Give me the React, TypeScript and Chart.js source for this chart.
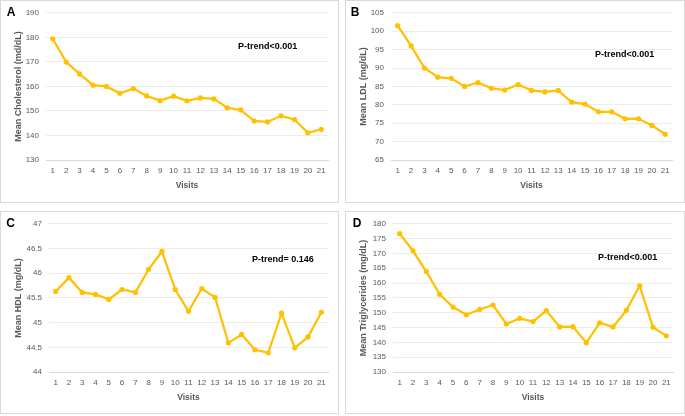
import React, { useEffect, useRef } from "react";
import { Chart, registerables } from "chart.js";

Chart.register(...registerables);

const visits = ["1","2","3","4","5","6","7","8","9","10","11","12","13","14","15","16","17","18","19","20","21"];
const cholesterol = [179.4,169.9,165.1,160.5,160.0,157.2,159.1,156.1,154.2,156.0,154.1,155.3,154.9,151.3,150.4,145.9,145.5,148.0,146.5,141.1,142.5];
const ldl = [101.5,96.0,90.0,87.5,87.2,85.0,86.0,84.5,84.0,85.5,83.9,83.5,83.9,80.7,80.2,78.1,78.1,76.2,76.2,74.4,72.0];
const hdl = [45.63,45.91,45.61,45.57,45.47,45.67,45.61,46.08,46.44,45.67,45.23,45.69,45.51,44.59,44.76,44.45,44.39,45.19,44.49,44.71,45.21];
const triglycerides = [176.7,170.9,163.9,156.2,151.9,149.3,151.1,152.6,146.2,148.1,147.0,150.7,145.2,145.3,139.9,146.6,145.2,150.8,159.1,145.1,142.2];

const panelLetters = ["A", "B", "C", "D"];
const pTrends = ["P-trend<0.001", "P-trend<0.001", "P-trend= 0.146", "P-trend<0.001"];
const yTitles = ["Mean Cholesterol (md/dL)", "Mean LDL (mg/dL)", "Mean HDL (mg/dL)", "Mean Triglycerides (mg/dL)"];
const yRanges = [
  [130, 190, 10],
  [65, 105, 5],
  [44, 47, 0.5],
  [130, 180, 5],
];
const seriesList = [cholesterol, ldl, hdl, triglycerides];

const FONT = "'Liberation Sans', Arial, sans-serif";
const GOLD = "#FFC000";
const GRAY = "#595959";
const GRID = "#ececec";
const AXIS = "#d9d9d9";

type Geo = {
  left: number; top: number; w: number; h: number;
  yW: number; padR: number; padT: number; xH: number; xTitlePad: number;
  letterX: number; letterY: number; pX: number; pY: number;
};

const geos: Geo[] = [
  { left: 0, top: 0, w: 337, h: 201, yW: 45, padR: 10, padT: 9, xH: 42, xTitlePad: 11, letterX: 10, letterY: 12, pX: 237, pY: 46 },
  { left: 345, top: 0, w: 338, h: 201, yW: 45, padR: 12, padT: 9, xH: 42, xTitlePad: 11, letterX: 9, letterY: 11.5, pX: 249, pY: 54 },
  { left: 0, top: 211, w: 337, h: 201, yW: 48, padR: 10, padT: 10, xH: 41, xTitlePad: 10.5, letterX: 9.5, letterY: 11.5, pX: 251, pY: 48 },
  { left: 345, top: 211, w: 338, h: 201, yW: 47, padR: 11, padT: 10, xH: 41, xTitlePad: 10.5, letterX: 11, letterY: 11.5, pX: 252, pY: 46 },
];

const panelTextPlugin = {
  id: "panelText",
  afterDraw(chart: any, _args: any, opts: any) {
    const ctx = chart.ctx;
    ctx.save();
    ctx.fillStyle = "#000";
    ctx.textBaseline = "middle";
    ctx.textAlign = "center";
    ctx.font = `bold 12px ${FONT}`;
    ctx.fillText(opts.letter, opts.letterX, opts.letterY);
    ctx.textAlign = "left";
    ctx.font = `bold 9px ${FONT}`;
    ctx.fillText(opts.pText, opts.pX, opts.pY);
    ctx.restore();
  },
};

function Panel({ idx }: { idx: number }) {
  const ref = useRef<HTMLCanvasElement | null>(null);
  const g = geos[idx];
  useEffect(() => {
    if (!ref.current) return;
    const [mn, mx, step] = yRanges[idx];
    const chart = new Chart(ref.current, {
      type: "line",
      data: {
        labels: visits,
        datasets: [
          {
            data: seriesList[idx],
            borderColor: GOLD,
            backgroundColor: GOLD,
            borderWidth: 2.25,
            pointRadius: 2.6,
            pointBackgroundColor: GOLD,
            pointBorderColor: GOLD,
            pointBorderWidth: 0,
            tension: 0,
          },
        ],
      },
      options: {
        responsive: false,
        animation: false,
        devicePixelRatio: 1,
        layout: { padding: { left: 0, right: g.padR, top: g.padT, bottom: 0 } },
        plugins: {
          legend: { display: false },
          tooltip: { enabled: false },
          panelText: {
            letter: panelLetters[idx],
            pText: pTrends[idx],
            letterX: g.letterX,
            letterY: g.letterY,
            pX: g.pX,
            pY: g.pY,
          },
        } as any,
        scales: {
          x: {
            offset: true,
            grid: { display: false, drawTicks: false },
            border: { display: true, color: AXIS, width: 1 },
            ticks: { color: GRAY, font: { family: FONT, size: 8 }, padding: 6, maxRotation: 0, autoSkip: false },
            title: {
              display: true,
              text: "Visits",
              color: GRAY,
              font: { family: FONT, size: 8.5, weight: "bold" },
              padding: { top: 0, bottom: g.xTitlePad },
            },
            afterFit: (s: any) => { s.height = g.xH; },
          },
          y: {
            min: mn,
            max: mx,
            grid: {
              color: (c: any) => (c.tick && c.tick.value === mn ? AXIS : GRID),
              drawTicks: false,
              lineWidth: 1,
            },
            border: { display: false },
            ticks: {
              stepSize: step,
              color: GRAY,
              font: { family: FONT, size: 8 },
              padding: 7,
              callback: (v: any) => String(Math.round(Number(v) * 10) / 10),
            },
            title: {
              display: true,
              text: yTitles[idx],
              color: GRAY,
              font: { family: FONT, size: 9, weight: "bold" },
              padding: { top: 12, bottom: 0 },
            },
            afterFit: (s: any) => { s.width = g.yW; },
          },
        },
      },
      plugins: [panelTextPlugin],
    } as any);
    return () => chart.destroy();
  }, [idx]);
  return (
    <div
      style={{
        position: "absolute",
        left: g.left,
        top: g.top,
        width: g.w,
        height: g.h,
        border: `1px solid ${AXIS}`,
        background: "#fff",
      }}
    >
      <canvas ref={ref} width={g.w} height={g.h} style={{ display: "block", width: g.w, height: g.h }} />
    </div>
  );
}

export default function App() {
  return (
    <div style={{ position: "fixed", left: 0, top: 0, width: 685, height: 416, background: "#fff" }}>
      {[0, 1, 2, 3].map((i) => (
        <Panel key={i} idx={i} />
      ))}
    </div>
  );
}
